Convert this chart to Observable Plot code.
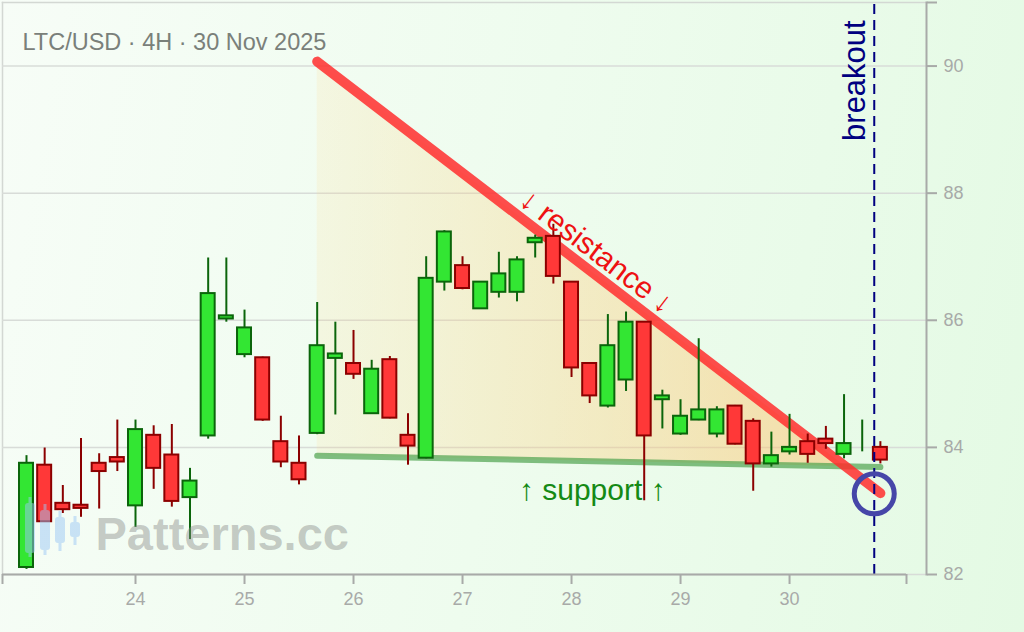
<!DOCTYPE html>
<html><head><meta charset="utf-8">
<script src="https://cdn.jsdelivr.net/npm/d3@7"></script>
<script src="https://cdn.jsdelivr.net/npm/@observablehq/plot@0.6"></script>
<style>
html,body{margin:0;padding:0;width:1024px;height:632px;overflow:hidden;}
body{background:linear-gradient(100deg,#f7fdf7 0%,#eefcee 50%,#e4fae4 100%);font-family:"Liberation Sans",Arial,sans-serif;}
#chart{position:absolute;left:0;top:0;}
</style></head><body><div id="chart"></div>
<script>
// ---- data ----
const title = "LTC/USD · 4H · 30 Nov 2025";
const firstCandle = "2025-11-23T00:00Z";   // 4H candles
const opens  = [82.11,83.72,83.12,83.09,83.75,83.84,83.08,84.19,83.88,83.21,84.18,86.02,85.46,85.41,84.09,83.75,84.22,85.40,85.32,84.53,85.38,84.19,83.83,86.60,86.86,86.18,86.44,86.44,87.22,87.32,86.60,85.32,84.65,85.06,85.97,84.75,84.21,84.43,84.21,84.65,84.41,83.74,83.93,84.09,84.13,83.89,84.20,84.00];
const closes = [83.75,82.83,83.02,83.04,83.62,83.77,84.28,83.67,83.15,83.47,86.42,86.07,85.88,84.43,83.77,83.49,85.60,85.47,85.15,85.23,84.46,84.02,86.66,87.39,86.50,86.60,86.73,86.95,87.29,86.69,85.25,84.81,85.60,85.97,84.18,84.81,84.49,84.59,84.59,84.05,83.74,83.87,84.00,83.89,84.06,84.06,84.20,83.80];
const highs  = [83.87,83.99,83.40,84.14,83.90,84.43,84.43,84.34,84.36,83.67,86.98,86.98,86.16,85.42,84.49,84.18,86.28,85.97,85.84,85.37,85.43,84.53,87.00,87.41,87.00,86.60,87.07,87.00,87.34,87.51,86.60,85.32,86.09,86.13,85.97,84.90,84.75,85.71,84.64,84.66,84.45,84.24,84.52,84.21,84.33,84.83,84.43,84.09];
const lows   = [82.08,82.82,82.96,82.90,83.03,83.62,82.74,83.34,83.06,82.55,84.13,85.97,85.41,84.41,83.68,83.41,84.20,84.51,85.07,84.52,84.45,83.72,83.82,86.46,86.48,86.17,86.35,86.29,86.98,86.57,85.10,84.69,84.62,84.88,83.16,84.29,84.19,84.42,84.15,84.04,83.31,83.69,83.88,83.75,83.97,83.82,83.93,83.74];

const dayTicks = [24,25,26,27,28,29,30];
const yTicks = [82,84,86,88,90];
const xDomain = ["2025-11-22T18:43Z","2025-12-01T01:45Z"];
const yDomain = [82,91];

const trendTimes = ["2025-11-25T16:00Z","2025-11-30T20:00Z"];
const resistanceValues = [90.07,83.28];
const supportValues = [83.87,83.69];
const breakoutTime = "2025-11-30T18:39Z";
const breakoutValue = 83.27;
const breakoutLabelTime = "2025-11-30T16:39Z";
const breakoutLabelValue = 90.72;
const resistanceLabel = {time:"2025-11-28T05:30Z", value:87.08, text:"↓ resistance ↓"};
const supportLabel = {time:"2025-11-28T04:34Z", value:83.165, text:"↑ support ↑"};
const watermark = "Patterns.cc";

// ---- build ----
const H4 = 4*3600e3;
const t0 = new Date(firstCandle).getTime();
const candles = opens.map((o,i)=>({date:new Date(t0+i*H4), open:o, close:closes[i], high:highs[i], low:lows[i], up:closes[i]>=o}));
const halfBody = 1.54*3600e3;
const xd = xDomain.map(d=>new Date(d));
const tt = trendTimes.map(d=>new Date(d));
const resistance = tt.map((t,i)=>({t, v:resistanceValues[i]}));
const support = tt.map((t,i)=>({t, v:supportValues[i]}));
const span = tt[1]-tt[0];
const rs = (resistanceValues[1]-resistanceValues[0])/span, ss=(supportValues[1]-supportValues[0])/span;
const dti = (supportValues[0]-resistanceValues[0])/(rs-ss);
const ti = new Date(+tt[0]+dti);
const vi = supportValues[0]+ss*dti;
const wedge = [{t:tt[0], lo:supportValues[0], hi:resistanceValues[0]},{t:ti, lo:vi, hi:vi}];

const dayDates = dayTicks.map(d=>new Date(Date.UTC(2025,10,d)));
const xTickVals = [xd[0], ...dayDates, xd[1]];
const yTickVals = [...yTicks, yDomain[1]];

const defs = () => {
  const g = d3.create("svg:defs");
  const lg = g.append("linearGradient").attr("id","wedgeFill").attr("x1","0").attr("x2","1").attr("y1","0").attr("y2","0");
  lg.append("stop").attr("offset","0%").attr("stop-color","#ffd27a").attr("stop-opacity",0.14);
  lg.append("stop").attr("offset","100%").attr("stop-color","#ffbf66").attr("stop-opacity",0.5);
  return g.node();
};
const logo = (index, scales, values, dims) => {
  const g = d3.create("svg:g").attr("opacity",0.5);
  const x0 = dims.marginLeft, yb = dims.height - dims.marginBottom;
  const items = [[28,-71,-21,-17],[43,-64,-24,-19],[58,-57,-31,-23],[73,-52,-37,-29]];
  for (const [cx,top,bot,wb] of items){
    g.append("line").attr("x1",x0+cx).attr("x2",x0+cx).attr("y1",yb+top-6).attr("y2",yb+wb).attr("stroke","#9cc8f5").attr("stroke-width",3);
    g.append("rect").attr("x",x0+cx-5).attr("y",yb+top).attr("width",10).attr("height",bot-top).attr("rx",3).attr("fill","#9cc8f5");
  }
  return g.node();
};

const chart = Plot.plot({
  width:1024, height:632,
  marginLeft:2, marginRight:98, marginTop:2, marginBottom:58,
  style:{background:"transparent", fontFamily:"'Liberation Sans', Arial, sans-serif", overflow:"visible"},
  x:{type:"utc", domain:xd, range:[2,906]},
  y:{domain:yDomain},
  marks:[
    defs,
    Plot.frame({anchor:"top", stroke:"#d3d8d3", strokeWidth:1.5}),
    Plot.frame({anchor:"left", stroke:"#d3d8d3", strokeWidth:1.5}),
    Plot.ruleY(yTicks.filter(v=>v>yDomain[0]), {stroke:"#d8dcd8", strokeWidth:1.5}),
    Plot.ruleY([yDomain[0]], {stroke:"#d8dcd8", strokeWidth:1.5}),
    Plot.areaY(wedge, {x:"t", y1:"lo", y2:"hi", fill:"url(#wedgeFill)"}),
    Plot.line(support, {x:"t", y:"v", stroke:"#4ea24e", strokeOpacity:0.7, strokeWidth:6, strokeLinecap:"round"}),
    Plot.line(resistance, {x:"t", y:"v", stroke:"#ff2e2e", strokeOpacity:0.85, strokeWidth:10, strokeLinecap:"round"}),
    Plot.ruleX(candles, {x:"date", y1:"low", y2:"high", stroke:d=>d.up?"#0b650b":"#8b0000", strokeWidth:2}),
    Plot.rect(candles.filter(d=>d.open!==d.close), {
      x1:d=>new Date(+d.date-halfBody), x2:d=>new Date(+d.date+halfBody),
      y1:"open", y2:"close",
      fill:d=>d.up?"#33e633":"#ff3838", stroke:d=>d.up?"#0b650b":"#8b0000", strokeWidth:2
    }),
    Plot.ruleX([new Date(breakoutTime)], {y1:()=>yDomain[0], y2:()=>yDomain[1], stroke:"#000080", strokeWidth:2, strokeDasharray:"10,6"}),
    Plot.text(["breakout"], {x:()=>new Date(breakoutLabelTime), y:()=>breakoutLabelValue, rotate:-90, textAnchor:"end", lineAnchor:"bottom", fill:"#000080", fontSize:31}),
    Plot.text([resistanceLabel], {x:d=>new Date(d.time), y:"value", text:"text", rotate:37.4, textAnchor:"middle", lineAnchor:"middle", fill:"#ee1111", fontSize:30}),
    Plot.text([supportLabel], {x:d=>new Date(d.time), y:"value", text:"text", textAnchor:"middle", lineAnchor:"bottom", fill:"#158a15", fontSize:30}),
    Plot.dot([{t:new Date(breakoutTime), v:breakoutValue}], {x:"t", y:"v", r:20, stroke:"#4646a8", strokeWidth:5, fill:"none"}),
    Plot.text([title], {frameAnchor:"top-left", dx:20, dy:47, lineAnchor:"bottom", textAnchor:"start", fill:"#7a807a", fontSize:23.5}),
    Plot.text([watermark], {frameAnchor:"bottom-left", dx:93, dy:-25, lineAnchor:"bottom", textAnchor:"start", fill:"#8a8c8a", fillOpacity:0.45, fontSize:47, fontWeight:"bold"}),
    logo,
    Plot.ruleY([yDomain[0]], {x1:()=>xd[0], x2:()=>xd[1], stroke:"#a8aaa8", strokeWidth:2}),
    Plot.axisX({ticks:xTickVals, tickFormat:d=>dayDates.some(x=>+x===+d)?String(d.getUTCDate()):"", tickSize:10, tickPadding:8, stroke:"#a8aaa8", strokeWidth:2, fill:"#a8aaa8", fontSize:18, label:null}),
    Plot.frame({anchor:"right", stroke:"#a8aaa8", strokeWidth:2}),
    Plot.axisY({anchor:"right", ticks:yTickVals, tickFormat:d=>d===yDomain[1]?"":String(d), tickSize:10, tickPadding:7, stroke:"#a8aaa8", strokeWidth:2, fill:"#a8aaa8", fontSize:18, label:null})
  ]
});
document.getElementById("chart").appendChild(chart);
</script></body></html>
